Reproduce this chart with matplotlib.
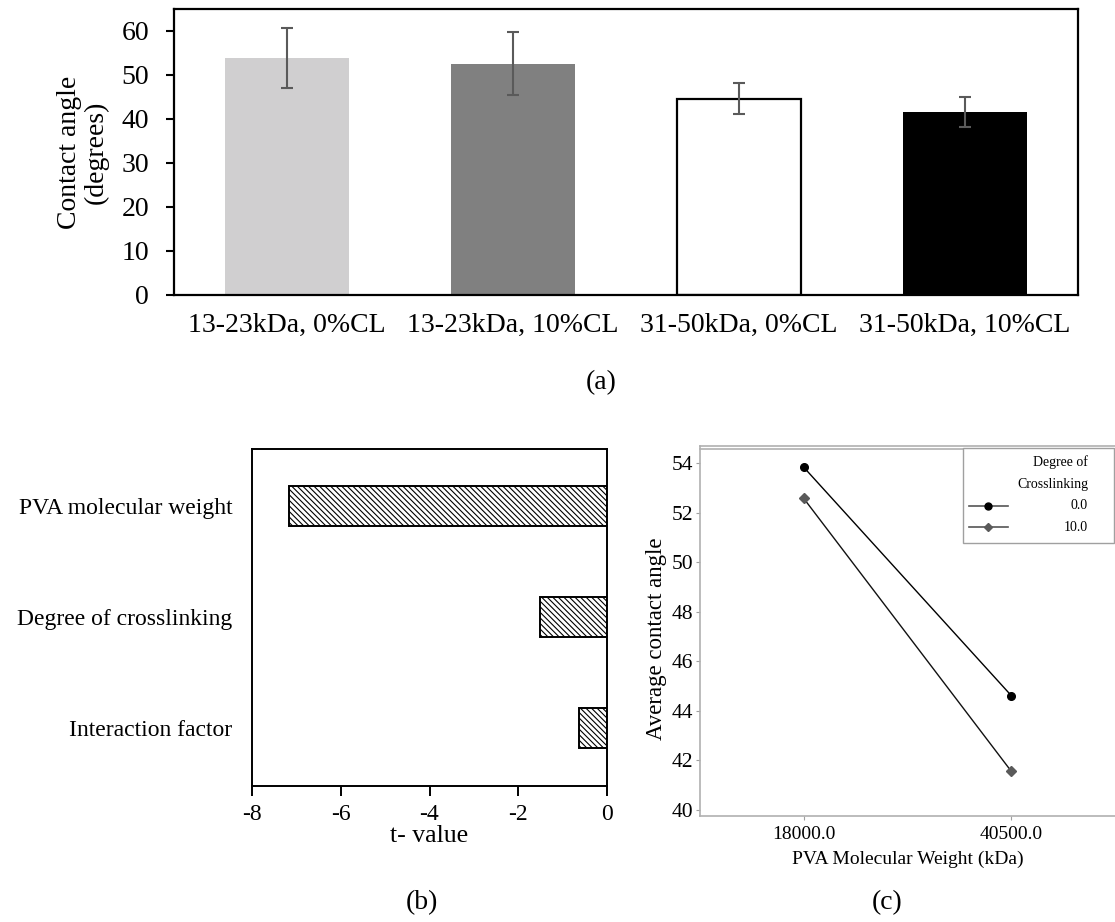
"""
Contact angle figure: (a) mean contact angle per PVA formulation,
(b) t-values of the factorial effects, (c) interaction plot.
"""
import matplotlib
matplotlib.use("Agg")
import matplotlib.pyplot as plt
from matplotlib.lines import Line2D
from matplotlib.patches import Rectangle

plt.rcParams["font.family"] = ["Liberation Serif", "DejaVu Serif"]
plt.rcParams["hatch.linewidth"] = 0.8
plt.rcParams["axes.unicode_minus"] = False  # original uses plain hyphens

# (a) contact angle per formulation
groups = ["13-23kDa, 0%CL", "13-23kDa, 10%CL", "31-50kDa, 0%CL", "31-50kDa, 10%CL"]
angle_mean = [53.84, 52.58, 44.61, 41.55]
angle_err = [6.75, 7.15, 3.55, 3.4]
bar_colors = ["#d0cfd0", "#808080", "#ffffff", "#000000"]

# (b) t-values of the effects
factors = ["PVA molecular weight", "Degree of crosslinking", "Interaction factor"]
t_values = [-7.16, -1.51, -0.62]

# (c) interaction plot
mw_labels = ["18000.0", "40500.0"]
cl_levels = ["0.0", "10.0"]
avg_cl0 = [53.84, 44.61]
avg_cl10 = [52.58, 41.55]

fig = plt.figure(figsize=(11.15, 9.22), dpi=100)
W, H = 1115.0, 922.0


def box(left, top, right, bottom):
    return [left / W, 1 - bottom / H, (right - left) / W, (bottom - top) / H]


# ---- (a) ----
ax = fig.add_axes(box(174, 9, 1078, 295))
xs = range(len(groups))
ax.bar(xs, angle_mean, width=0.55, color=bar_colors, edgecolor="none", zorder=2)
# white bar gets a black outline
ax.bar([2], [angle_mean[2]], width=0.55, color="none", edgecolor="black", lw=1.6, zorder=3)
ax.errorbar(xs, angle_mean, yerr=angle_err, fmt="none", ecolor="#5a5a5a",
            elinewidth=1.5, capsize=4, capthick=1.5, zorder=4)
ax.set_xlim(-0.5, 3.5)
ax.set_ylim(0, 65)
ax.set_yticks(range(0, 61, 10))
ax.set_xticks(list(xs))
ax.set_xticklabels(groups)
ax.tick_params(axis="x", length=0, pad=13, labelsize=20)
ax.tick_params(axis="y", length=6, width=1.5, pad=12, labelsize=20)
for s in ax.spines.values():
    s.set_linewidth(1.6)
ax.set_ylabel("Contact angle\n(degrees)", fontsize=20, linespacing=1.1)
ax.yaxis.set_label_coords(-0.072, 0.5)
fig.text(601 / W, 1 - 383 / H, "(a)", fontsize=20, ha="center", va="center")

# ---- (b) ----
bx = fig.add_axes(box(252, 449, 607, 786))
bx.barh(range(len(factors)), t_values, height=0.36, color="white",
        edgecolor="black", lw=1.4, hatch="\\\\\\\\\\\\")
bx.set_xlim(-8, 0)
bx.set_ylim(2.52, -0.51)
bx.set_xticks([-8, -6, -4, -2, 0])
bx.set_yticks(range(len(factors)))
bx.set_yticklabels(factors)
bx.tick_params(axis="y", length=0, pad=14, labelsize=17)
bx.tick_params(axis="x", length=7, width=1.4, pad=6, labelsize=17)
for s in bx.spines.values():
    s.set_linewidth(1.4)
bx.set_xlabel("t- value", fontsize=18.5, labelpad=0)
fig.text(422 / W, 1 - 903 / H, "(b)", fontsize=20, ha="center", va="center")

# ---- (c) ----
cx = fig.add_axes(box(700, 446, 1115, 816))
cx.plot(range(len(mw_labels)), avg_cl0, color="black", lw=1, marker="o",
        ms=5.5, mfc="black", mec="black", zorder=3)
cx.plot(range(len(mw_labels)), avg_cl10, color="#111111", lw=1, marker="D",
        ms=5, mfc="#5a5a5a", mec="#5a5a5a", zorder=3)
cx.set_xlim(-0.5, 1.5)
cx.set_ylim(39.74, 54.7)
cx.set_yticks(range(40, 55, 2))
cx.set_xticks(range(len(mw_labels)))
cx.set_xticklabels(mw_labels)
cx.tick_params(length=3, width=0.8, color="#a0a0a0", pad=2, labelsize=14)
cx.tick_params(axis="y", labelsize=15.5)
cx.tick_params(axis="x", pad=4)
cx.spines["right"].set_visible(False)
for k in ("left", "bottom", "top"):
    cx.spines[k].set_color("#b0b0b0")
    cx.spines[k].set_linewidth(1.2)
cx.plot([0, 1], [0.992, 0.992], transform=cx.transAxes, color="#b0b0b0",
        lw=1.2, clip_on=False)
cx.set_xlabel("PVA Molecular Weight (kDa)", fontsize=14, labelpad=6)
cx.set_ylabel("Average contact angle", fontsize=16.5)
cx.yaxis.set_label_coords(-0.08, 0.48)

# legend drawn by hand so the labels can sit right-aligned like the original
cx.add_patch(Rectangle((0.634, 0.738), 0.364, 0.257, transform=cx.transAxes,
                       facecolor="white", edgecolor="#a0a0a0", lw=1, zorder=5))
cx.text(0.935, 0.957, "Degree of", transform=cx.transAxes, fontsize=10,
        ha="right", va="center", zorder=6)
cx.text(0.935, 0.897, "Crosslinking", transform=cx.transAxes, fontsize=10,
        ha="right", va="center", zorder=6)
for ypos, lab, mk, mc in [(0.838, cl_levels[0], "o", "black"),
                          (0.781, cl_levels[1], "D", "#5a5a5a")]:
    cx.add_line(Line2D([0.648, 0.742], [ypos, ypos], transform=cx.transAxes,
                       color="#555555", lw=1.2, zorder=6))
    cx.add_line(Line2D([0.694], [ypos], transform=cx.transAxes, marker=mk,
                       ms=5 if mk == "o" else 4.5, color=mc, lw=0, zorder=7))
    cx.text(0.935, ypos, lab, transform=cx.transAxes, fontsize=10,
            ha="right", va="center", zorder=6)
fig.text(887 / W, 1 - 903 / H, "(c)", fontsize=20, ha="center", va="center")

fig.savefig("out.png", dpi=100, facecolor="white")
